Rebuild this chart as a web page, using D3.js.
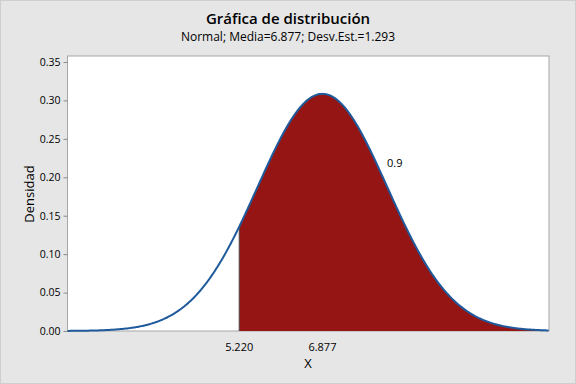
<!DOCTYPE html>
<html>
<head>
<meta charset="utf-8">
<script src="https://cdn.jsdelivr.net/npm/d3@7"></script>
<style>
  body { margin: 0; background: #e6e6e6; }
  text { font-family: "Open Sans", "Noto Sans", sans-serif; fill: #000; }
</style>
</head>
<body>
<div id="chart"></div>
<script>
//////////////////////////////////////////////////////////////////////////////
// Data

var mean = 6.877;
var sd = 1.293;
var cutoff = 5.220;          // shaded area starts here
var areaLabel = "0.9";
var xRange = [1.80, 11.39];  // visible x span
var yTicks = [0, 0.05, 0.10, 0.15, 0.20, 0.25, 0.30, 0.35];
var xTicks = [5.220, 6.877];

//////////////////////////////////////////////////////////////////////////////
// Layout

var W = 576, H = 384;
var plot = { left: 67.5, right: 549, top: 56, bottom: 331 };

var xScale = d3.scaleLinear().domain(xRange).range([plot.left, plot.right]);
var yScale = d3.scaleLinear().domain([0, 0.3578]).range([plot.bottom, plot.top]);

function density(x) {
    var z = (x - mean) / sd;
    return Math.exp(-0.5 * z * z) / (sd * Math.sqrt(2 * Math.PI));
}

var svg = d3.select("#chart").append("svg")
    .attr("width", W)
    .attr("height", H);

svg.append("rect")
    .attr("x", 0.5).attr("y", 0.5)
    .attr("width", W - 1).attr("height", H - 1)
    .attr("fill", "#e6e6e6")
    .attr("stroke", "#cfcfcf");

svg.append("rect")
    .attr("x", plot.left).attr("y", plot.top)
    .attr("width", plot.right - plot.left)
    .attr("height", plot.bottom - plot.top)
    .attr("fill", "#ffffff")
    .attr("stroke", "#a6a6a6");

// sample the curve along the pixel range
var curve = d3.range(plot.left, plot.right + 0.5, 1).map(function(px) {
    var x = xScale.invert(px);
    return { x: x, y: density(x) };
});
var shaded = [{ x: cutoff, y: density(cutoff) }]
    .concat(curve.filter(function(d) { return d.x >= cutoff; }));

svg.append("path")
    .datum(shaded)
    .attr("fill", "#951515")
    .attr("d", d3.area()
        .x(function(d) { return xScale(d.x); })
        .y0(yScale(0))
        .y1(function(d) { return yScale(d.y); }));

svg.append("line")
    .attr("x1", xScale(cutoff)).attr("x2", xScale(cutoff))
    .attr("y1", yScale(0)).attr("y2", yScale(density(cutoff)))
    .attr("stroke", "#4a4a4a")
    .attr("stroke-width", 1);

svg.append("path")
    .datum(curve)
    .attr("fill", "none")
    .attr("stroke", "#1f5a9c")
    .attr("stroke-width", 2)
    .attr("d", d3.line()
        .x(function(d) { return xScale(d.x); })
        .y(function(d) { return yScale(d.y); }));

// y axis
var yAxis = svg.append("g")
    .attr("transform", "translate(" + plot.left + ",0)")
    .call(d3.axisLeft(yScale).tickValues(yTicks).tickFormat(d3.format(".2f")).tickSize(4).tickPadding(3));
yAxis.select(".domain").remove();
yAxis.selectAll(".tick line").attr("stroke", "#8a8a8a");
yAxis.selectAll("text").style("font-size", "10.5px").attr("fill", "#000");

// x labels (no tick marks)
svg.append("g").selectAll("text")
    .data(xTicks)
    .enter()
    .append("text")
    .attr("x", function(d) { return xScale(d); })
    .attr("y", 351)
    .attr("text-anchor", "middle")
    .style("font-size", "11px")
    .text(function(d) { return d3.format(".3f")(d); });

// titles
svg.append("text")
    .attr("x", 288).attr("y", 24)
    .attr("text-anchor", "middle")
    .style("font-size", "15px")
    .style("font-weight", "600")
    .text("Gráfica de distribución");

svg.append("text")
    .attr("x", 288).attr("y", 41)
    .attr("text-anchor", "middle")
    .style("font-size", "12px")
    .text("Normal; Media=" + mean + "; Desv.Est.=" + sd);

svg.append("text")
    .attr("x", 308).attr("y", 368)
    .attr("text-anchor", "middle")
    .style("font-size", "13px")
    .text("X");

svg.append("text")
    .attr("transform", "translate(34,194) rotate(-90)")
    .attr("text-anchor", "middle")
    .style("font-size", "13px")
    .text("Densidad");

svg.append("text")
    .attr("x", 387).attr("y", 167)
    .style("font-size", "11px")
    .text(areaLabel);
</script>
</body>
</html>
